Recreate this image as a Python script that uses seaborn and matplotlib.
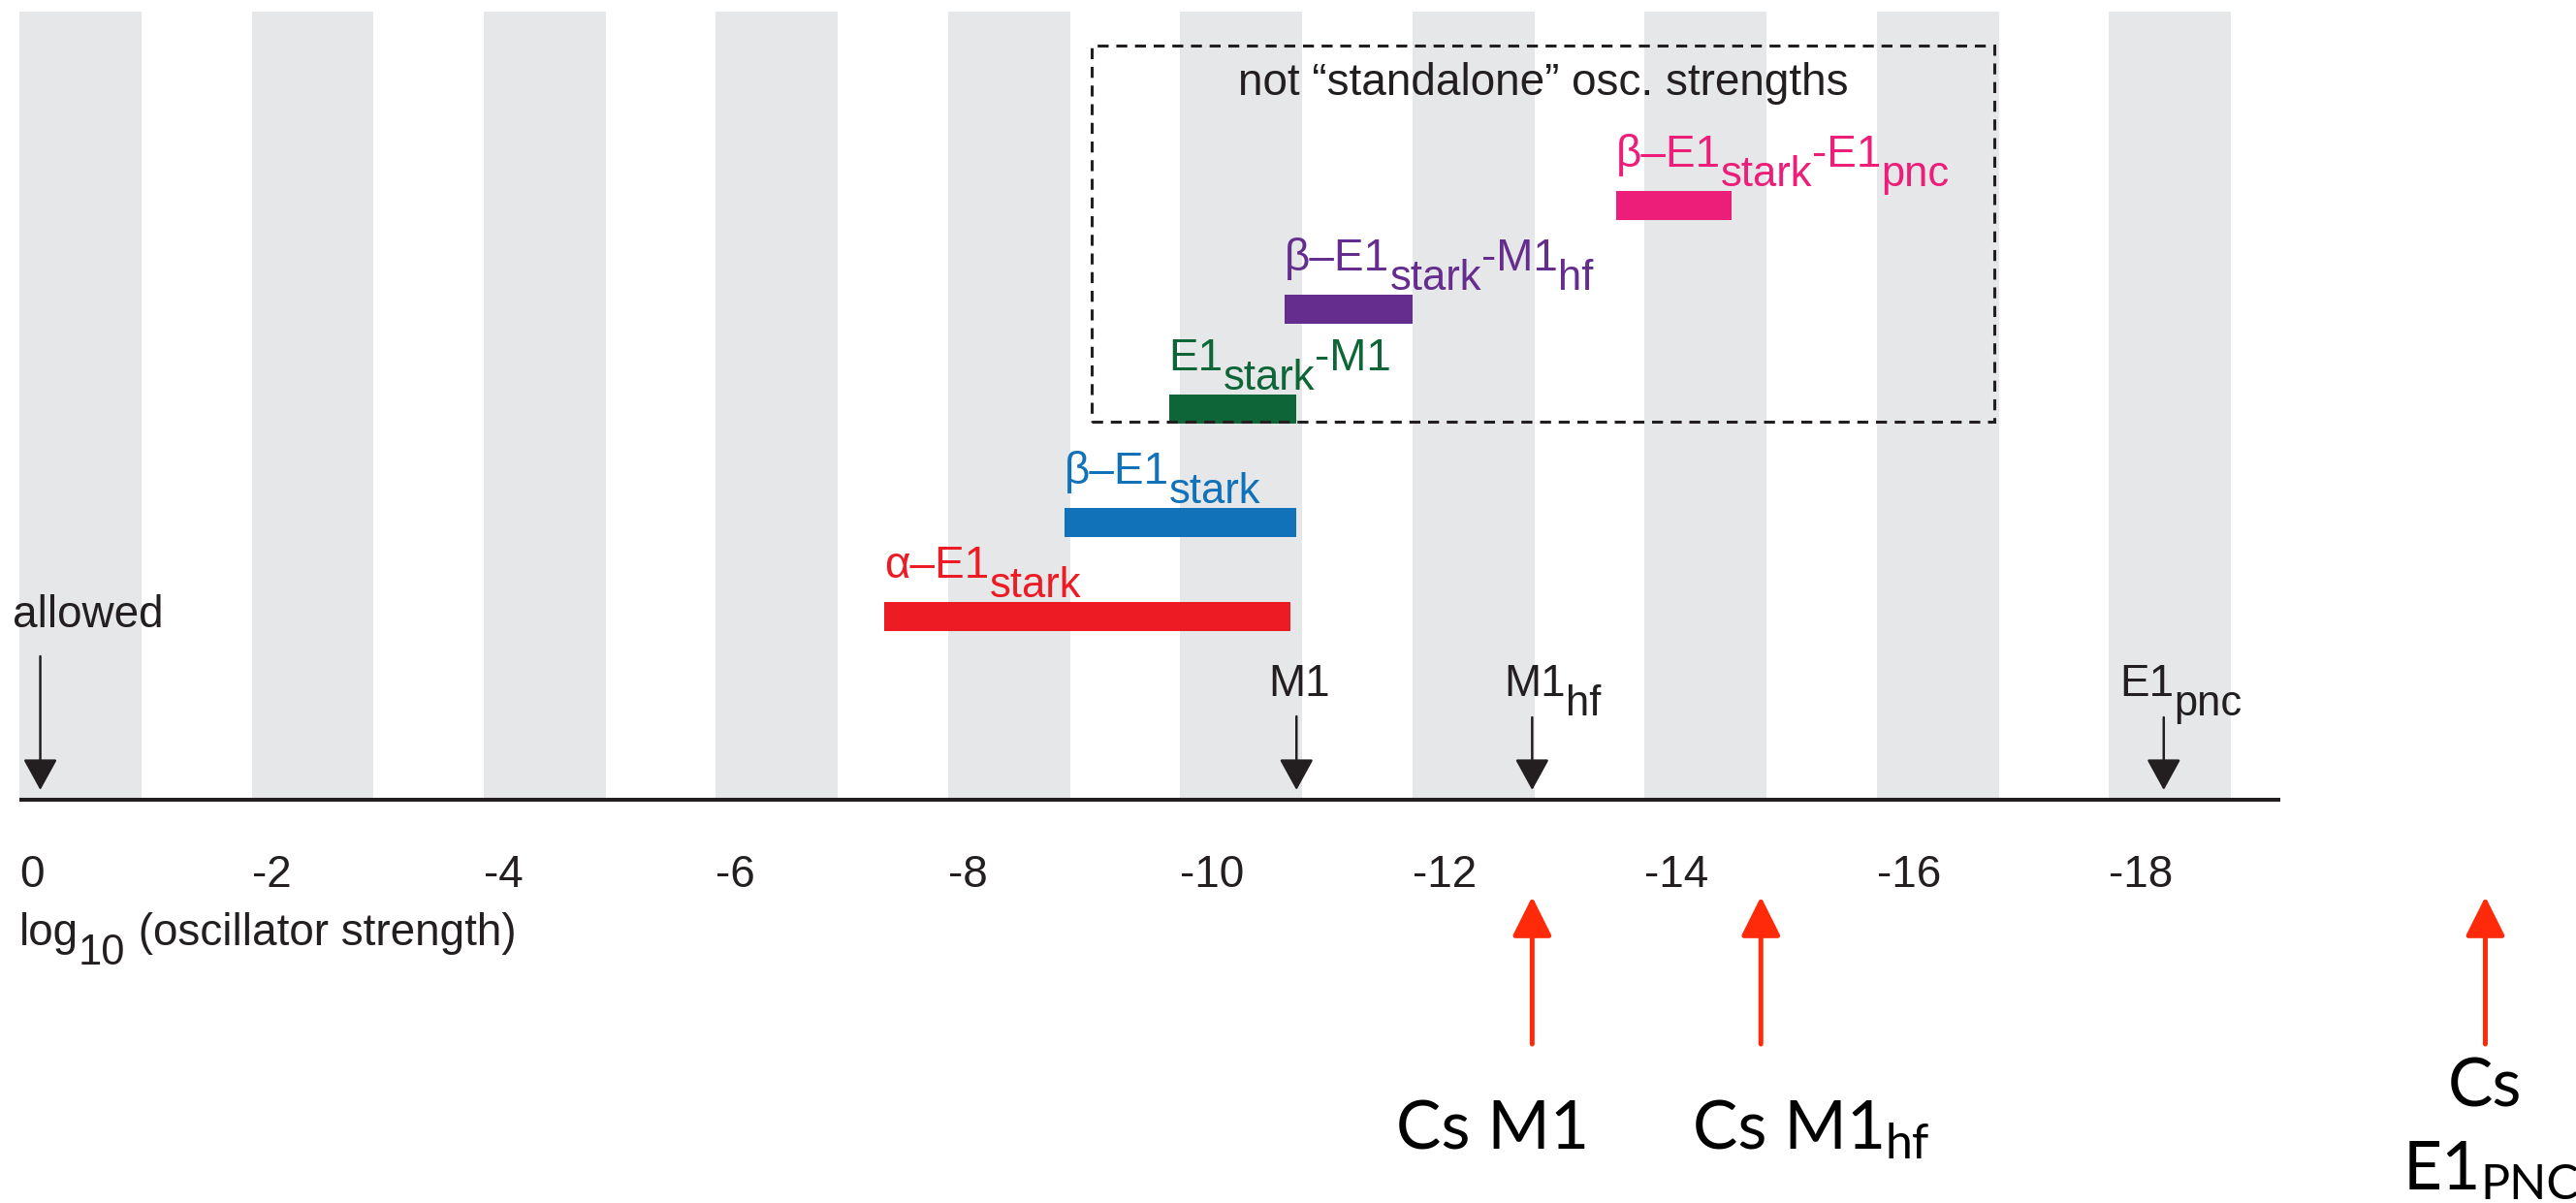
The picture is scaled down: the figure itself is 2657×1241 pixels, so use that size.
import matplotlib
matplotlib.use("Agg")
import matplotlib.pyplot as plt
from matplotlib.patches import Rectangle
import seaborn as sns

# ---------------- data ----------------
band_starts = [0, -2, -4, -6, -8, -10, -12, -14, -16, -18]
band_width = 1.05

tick_values = [0, -2, -4, -6, -8, -10, -12, -14, -16, -18]
tick_labels = ["0", "-2", "-4", "-6", "-8", "-10", "-12", "-14", "-16", "-18"]

bar_start = [-7.45, -9.0, -9.9, -10.9, -13.75]
bar_end = [-10.95, -11.0, -11.0, -12.0, -14.75]
bar_level = [1.89, 2.86, 4.03, 5.06, 6.13]
bar_colors = ["#ED1C24", "#1172BA", "#0E6537", "#652D8E", "#EC1E79"]
bar_labels = [
    [("α–E1", "n"), ("stark", "s")],
    [("β–E1", "n"), ("stark", "s")],
    [("E1", "n"), ("stark", "s"), ("-M1", "n")],
    [("β–E1", "n"), ("stark", "s"), ("-M1", "n"), ("hf", "s")],
    [("β–E1", "n"), ("stark", "s"), ("-E1", "n"), ("pnc", "s")],
]

marker_x = [-0.18, -11.0, -13.03, -18.47]
marker_top = [1.48, 0.86, 0.85, 0.85]
marker_label_x = [0.06, -10.76, -12.79, -18.09]
marker_label_y = [1.78, 1.07, 1.07, 1.07]
marker_labels = [
    [("allowed", "n")],
    [("M1", "n")],
    [("M1", "n"), ("hf", "s")],
    [("E1", "n"), ("pnc", "s")],
]

cs_x = [-13.03, -15.0, -21.24]
cs_label_x = [-11.86, -14.41, -20.53]
cs_label_y = [-3.60, -3.60, -4.02]
cs_labels = [
    [("Cs M1", "n")],
    [("Cs M1", "n"), ("hf", "s")],
    [("E1", "n"), ("PNC", "s")],
]

box_left, box_right, box_bottom, box_top = -9.24, -17.01, 3.90, 7.78
box_title = "not “standalone” osc. strengths"
axis_end = -19.47
xlabel_parts = [("log", "n"), ("10", "s"), (" (oscillator strength)", "n")]

# ---------------- style ----------------
sns.set_theme(style="white")
plt.rcParams["font.family"] = ["Liberation Sans", "DejaVu Sans"]
INK = "#231F20"
GRAY = "#E6E7E8"
FS = 33

fig = plt.figure(figsize=(26.57, 12.41), dpi=100)
ax = fig.add_axes([0, 0, 1, 1])
ax.set_xlim(20 / 119.75, -(2657 - 20) / 119.75)
ax.set_ylim(-4.16, 8.25)
ax.axis("off")


def rich(x, y, parts, color, size, family=None, sub_scale=0.95, sub_drop=0.42,
         ha="left"):
    kw = {} if family is None else {"family": family}
    first = ax.text(x, y, parts[0][0], color=color, fontsize=size, ha=ha,
                    va="baseline", **kw)
    prev = first
    for txt, kind in parts[1:]:
        fs = size * sub_scale if kind == "s" else size
        dy = -sub_drop * size if kind == "s" else 0
        prev = ax.annotate(txt, xy=(1, 0), xycoords=(prev, first),
                           xytext=(0, dy), textcoords="offset points",
                           color=color, fontsize=fs, ha="left", va="bottom",
                           annotation_clip=False, **kw)
    return first


# background bands
for s in band_starts:
    ax.fill_between([s, s - band_width], 0, 8.13, color=GRAY, lw=0, zorder=0)

# axis line
ax.plot([0, axis_end], [0, 0], color=INK, lw=2.9, solid_capstyle="butt", zorder=3)

# tick labels
for v, lab in zip(tick_values, tick_labels):
    ax.text(v, -0.90, lab, color=INK, fontsize=FS, ha="left", va="baseline")
rich(0.0, -1.50, xlabel_parts, INK, FS)

# range bars
bh = 0.30
for s, e, lvl, c, parts in zip(bar_start, bar_end, bar_level, bar_colors, bar_labels):
    ax.barh(lvl, e - s, left=s, height=bh, color=c, lw=0, zorder=4)
    rich(s, lvl + bh / 2 + 0.25, parts, c, FS)

# dashed box
ax.add_patch(Rectangle((box_left, box_bottom), box_right - box_left,
                       box_top - box_bottom, fill=False, ec=INK, lw=2.2,
                       linestyle=(0, (3.7, 2.6)), zorder=5))
ax.text((box_left + box_right) / 2, 7.27, box_title, color=INK, fontsize=FS,
        ha="center", va="baseline")

# black markers
for x, top, lx, ly, parts in zip(marker_x, marker_top, marker_label_x,
                                 marker_label_y, marker_labels):
    ax.annotate("", xy=(x, 0.10), xytext=(x, top),
                arrowprops=dict(arrowstyle="-|>,head_length=1.0,head_width=0.55",
                                mutation_scale=20, color=INK, lw=1.8,
                                shrinkA=0, shrinkB=0), zorder=6)
    rich(lx, ly, parts, INK, FS)

# red Cs arrows
RED = "#FF2A0A"
for x in cs_x:
    ax.annotate("", xy=(x, -1.0), xytext=(x, -2.52),
                arrowprops=dict(arrowstyle="-|>,head_length=1.0,head_width=0.5",
                                mutation_scale=25, color=RED, lw=3.6,
                                shrinkA=0, shrinkB=0), zorder=6)
cs_font = ["Lato", "DejaVu Sans"]
rich(cs_label_x[0], cs_label_y[0], cs_labels[0], "black", 50, family=cs_font)
rich(cs_label_x[1], cs_label_y[1], cs_labels[1], "black", 50, family=cs_font,
     sub_scale=0.72, sub_drop=0.1)
ax.text(cs_x[2], -3.17, "Cs", color="black", fontsize=50, family=cs_font,
        ha="center", va="baseline")
rich(cs_label_x[2], cs_label_y[2], cs_labels[2], "black", 50, family=cs_font,
     sub_scale=0.72, sub_drop=0.1)

fig.savefig("out.png", dpi=100)
